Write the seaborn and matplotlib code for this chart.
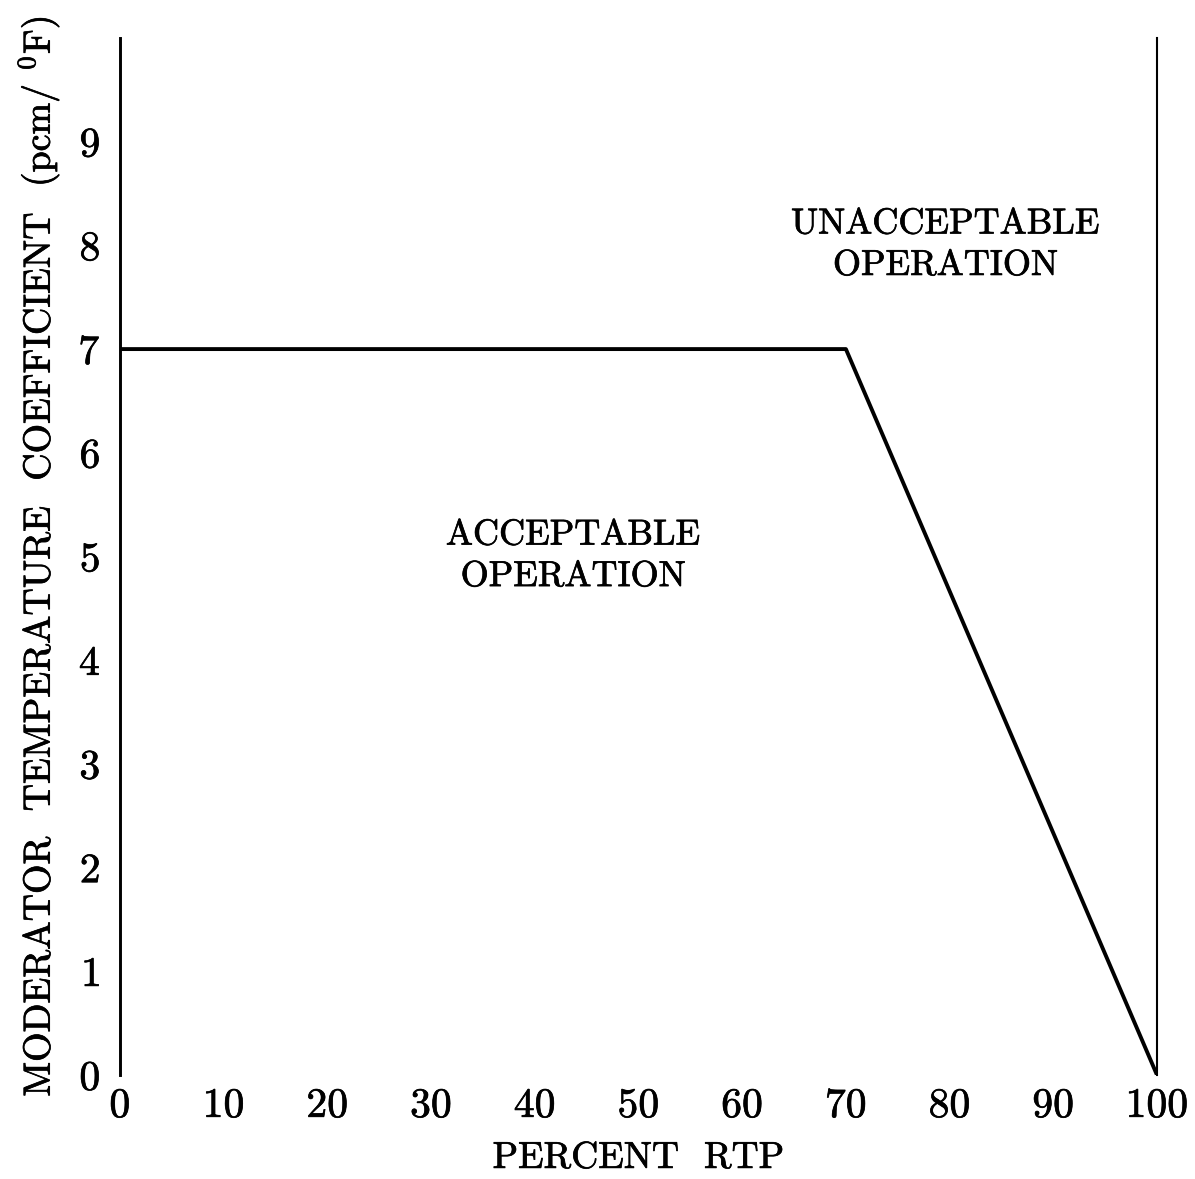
import matplotlib
matplotlib.use('Agg')
import matplotlib.pyplot as plt
import matplotlib.patheffects as pe
import seaborn as sns
import pandas as pd

# limit curve for moderator temperature coefficient
power_pct = [0, 70, 100]
mtc_limit = [7, 7, 0]

x_ticks = list(range(0, 101, 10))
y_ticks = list(range(0, 10))

sns.set_style('white')
plt.rcParams['font.family'] = ['cmr10', 'DejaVu Serif']
plt.rcParams['mathtext.fontset'] = 'cm'
plt.rcParams['axes.formatter.use_mathtext'] = True
plt.rcParams['text.color'] = 'black'
plt.rcParams['xtick.color'] = 'black'
plt.rcParams['ytick.color'] = 'black'
plt.rcParams['axes.labelcolor'] = 'black'

# slight stroke to imitate the heavier scanned type
bold = [pe.withStroke(linewidth=0.5, foreground='black')]

df = pd.DataFrame({'RTP': power_pct, 'MTC': mtc_limit})

fig = plt.figure(figsize=(11.95, 11.79), dpi=100)
ax = fig.add_axes([0.1004, 0.0882, 0.8678, 0.8796])

sns.lineplot(data=df, x='RTP', y='MTC', color='black', linewidth=2.8, ax=ax)

ax.set_xlim(0, 100)
ax.set_ylim(0, 10)
ax.set_xticks(x_ticks)
ax.set_yticks(y_ticks)
ax.tick_params(axis='both', length=0, labelsize=30)
ax.tick_params(axis='x', pad=9)
ax.tick_params(axis='y', pad=14)
for lab in ax.get_xticklabels() + ax.get_yticklabels():
    lab.set_path_effects(bold)

# only left and right lines are drawn
ax.spines['top'].set_visible(False)
ax.spines['bottom'].set_visible(False)
ax.spines['left'].set_linewidth(2.1)
ax.spines['right'].set_linewidth(1.5)
for side in ['left', 'right']:
    ax.spines[side].set_color('black')

ax.set_xlabel('PERCENT  RTP', fontsize=27, labelpad=12, path_effects=bold)
ax.set_ylabel(r'MODERATOR  TEMPERATURE  COEFFICIENT  (pcm/ $^{0}$F)',
              fontsize=27.3, labelpad=12, path_effects=bold)

ax.text(43.7, 5.0, 'ACCEPTABLE\nOPERATION', ha='center', va='center',
        fontsize=26, linespacing=1.4, path_effects=bold)
ax.text(79.6, 8.0, 'UNACCEPTABLE\nOPERATION', ha='center', va='center',
        fontsize=26, linespacing=1.4, path_effects=bold)

fig.savefig('out.png', dpi=100, facecolor='white')
